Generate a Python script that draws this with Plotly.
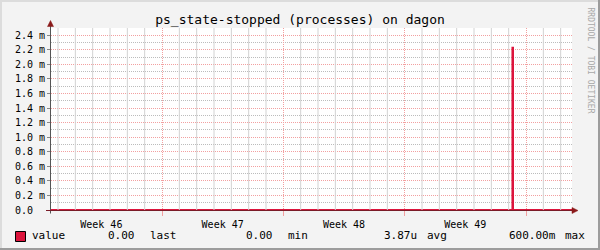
import pandas as pd
import plotly.graph_objects as go

# ---------------- data ----------------
times = ["2023-11-13 14:18", "2023-12-10 05:15", "2023-12-10 06:00", "2023-12-13 15:42"]
values = [0.0, 2.23e-3, 0.0, 0.0]

x_range = ["2023-11-13 14:18", "2023-12-13 15:42"]
week_tick0 = "2023-11-13"          # Monday, start of ISO week 46
week_numbers = ["46", "47", "48", "49", "50"]
week_labels = ["Week 46", "Week 47", "Week 48", "Week 49", "Week 50"]

y_ticks = [0.0, 0.2e-3, 0.4e-3, 0.6e-3, 0.8e-3, 1.0e-3, 1.2e-3, 1.4e-3,
           1.6e-3, 1.8e-3, 2.0e-3, 2.2e-3, 2.4e-3]
y_labels = ["0.0\u00a0\u00a0", "0.2 m", "0.4 m", "0.6 m", "0.8 m", "1.0 m", "1.2 m",
            "1.4 m", "1.6 m", "1.8 m", "2.0 m", "2.2 m", "2.4 m"]
y_range = [0, 2.5e-3]

legend_name = "value"
legend_items = [("0.00", 105.5), ("last", 148.0), ("0.00", 243.8), ("min", 285.5),
                ("3.87u", 382.2), ("avg", 424.5), ("600.00m", 507.0), ("max", 562.5)]

title = "ps_state-stopped (processes) on dagon"
watermark = "RRDTOOL / TOBI OETIKER"

# ---------------- geometry ----------------
W, H = 600, 250
L, R, T, B = 51, 28, 28, 40
PW, PH = W - L - R, H - T - B


def px(x):
    return (x - L) / PW


def py(y):
    return (H - B - y) / PH


MONO = "DejaVu Sans Mono"
SERIES = "#dc143c"
MAJOR = "#f2a0a0"
MINOR = "#bcbcbc"
DAYGRID = "#d2d2d2"
AXIS_X = "#7a1c28"
AXIS_Y = "#555555"
ARROW = "#8b1a1a"
DAY_MS = 86400000
WEEK_MS = 7 * DAY_MS

fig = go.Figure()
fig.add_trace(go.Scatter(
    x=times, y=values, mode="lines", line=dict(color=SERIES, width=2, shape="hv"),
    hoverinfo="skip", showlegend=False, cliponaxis=True,
))

fig.update_layout(
    width=W, height=H,
    margin=dict(l=L, r=R, t=T, b=B, pad=0),
    paper_bgcolor="#f3f3f3",
    plot_bgcolor="#ffffff",
    showlegend=False,
    title=dict(text=title, x=0.5, xref="container", xanchor="center",
               y=1 - 19.5 / H, yref="container", yanchor="middle",
               font=dict(family=MONO, size=13, color="#000000")),
    xaxis=dict(
        type="date", range=x_range, tickmode="linear", tick0=week_tick0, dtick=WEEK_MS,
        ticklabelmode="period", tickformat="%V",
        labelalias=dict(zip(week_numbers, week_labels)),
        ticklabelstandoff=0,
        tickfont=dict(family=MONO, size=10, color="#000000"),
        showgrid=True, gridcolor=MAJOR, griddash="1px,1px", gridwidth=1,
        ticks="outside", ticklen=5, tickcolor=MAJOR, showline=False,
        zeroline=False, fixedrange=True,
    ),
    yaxis=dict(
        range=y_range, tickmode="array", tickvals=y_ticks, ticktext=y_labels,
        showgrid=True, gridcolor=MAJOR, griddash="1px,1px", gridwidth=1,
        ticks="outside", ticklen=3, tickcolor="#888888", showline=False,
        zeroline=False, fixedrange=True,
        tickfont=dict(family=MONO, size=10, color="#000000"),
        minor=dict(tickmode="linear", dtick=0.1e-3, tick0=0, showgrid=True, gridcolor=MINOR,
                   griddash="1px,1px", gridwidth=1, ticks=""),
    ),
)

shapes = []
# daily minor grid lines
lo, hi = pd.Timestamp(x_range[0]), pd.Timestamp(x_range[1])
for d in pd.date_range(week_tick0, hi, freq="D"):
    if d <= lo or d.dayofweek == 0:
        continue
    shapes.append(dict(type="line", xref="x", yref="paper",
                       x0=d.strftime("%Y-%m-%d"), x1=d.strftime("%Y-%m-%d"), y0=0, y1=1,
                       line=dict(color=DAYGRID, width=1), layer="above"))
# outer frame: light top/left, dark bottom/right
shapes.append(dict(type="rect", xref="paper", yref="paper", x0=px(0), x1=px(W), y0=py(0), y1=py(2),
                   fillcolor="#dcdcdc", line=dict(width=0), layer="above"))
shapes.append(dict(type="rect", xref="paper", yref="paper", x0=px(0), x1=px(2), y0=py(0), y1=py(H),
                   fillcolor="#dcdcdc", line=dict(width=0), layer="above"))
shapes.append(dict(type="rect", xref="paper", yref="paper", x0=px(0), x1=px(W), y0=py(H - 2), y1=py(H),
                   fillcolor="#9c9c9c", line=dict(width=0), layer="above"))
shapes.append(dict(type="rect", xref="paper", yref="paper", x0=px(W - 2), x1=px(W), y0=py(0), y1=py(H),
                   fillcolor="#9c9c9c", line=dict(width=0), layer="above"))
# axis lines
shapes.append(dict(type="line", xref="paper", yref="paper", x0=px(50.5), x1=px(50.5),
                   y0=py(213.5), y1=py(25), line=dict(color=AXIS_Y, width=1), layer="above"))
shapes.append(dict(type="line", xref="paper", yref="paper", x0=px(46), x1=px(573),
                   y0=py(210.5), y1=py(210.5), line=dict(color=AXIS_X, width=1.2), layer="above"))
# arrows
shapes.append(dict(type="path", xref="paper", yref="paper", layer="above",
                   path=f"M {px(47.5)} {py(26.5)} L {px(53.5)} {py(26.5)} L {px(50.5)} {py(20.5)} Z",
                   fillcolor=ARROW, line=dict(color=ARROW, width=0.5)))
shapes.append(dict(type="path", xref="paper", yref="paper", layer="above",
                   path=f"M {px(572)} {py(207.5)} L {px(572)} {py(213.5)} L {px(578)} {py(210.5)} Z",
                   fillcolor=ARROW, line=dict(color=ARROW, width=0.5)))
# legend swatch
shapes.append(dict(type="rect", xref="paper", yref="paper", x0=px(15.5), x1=px(25.5),
                   y0=py(241.5), y1=py(231.5), fillcolor=SERIES,
                   line=dict(color="#000000", width=1), layer="above"))
fig.update_layout(shapes=shapes)

annotations = []
annotations.append(dict(text=legend_name, xref="paper", yref="paper", x=px(30.2), y=py(235.5),
                        xanchor="left", yanchor="middle", showarrow=False,
                        font=dict(family=MONO, size=11, color="#000000")))
for txt, xpos in legend_items:
    annotations.append(dict(text=txt, xref="paper", yref="paper", x=px(xpos), y=py(235.5),
                            xanchor="left", yanchor="middle", showarrow=False,
                            font=dict(family=MONO, size=11, color="#000000")))
annotations.append(dict(text=watermark, xref="paper", yref="paper", x=px(590.5), y=py(60),
                        xanchor="center", yanchor="middle", textangle=90, showarrow=False,
                        font=dict(family=MONO, size=8, color="#a8a8a8")))
fig.update_layout(annotations=annotations)

fig.write_html("out.html")
